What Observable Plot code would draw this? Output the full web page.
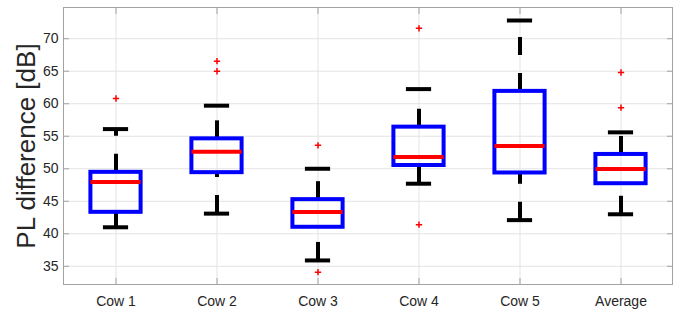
<!DOCTYPE html>
<html><head><meta charset="utf-8">
<script src="https://cdn.jsdelivr.net/npm/d3@7"></script>
<script src="https://cdn.jsdelivr.net/npm/@observablehq/plot@0.6"></script>
<style>body{margin:0;background:#fff} svg{display:block}</style>
</head><body><div id="chart"></div>
<script>
const categories = ["Cow 1", "Cow 2", "Cow 3", "Cow 4", "Cow 5", "Average"];
const lowerWhisker = [41.0, 43.1, 35.9, 47.7, 42.1, 43.0];
const q1Values     = [43.3, 49.4, 41.0, 50.5, 49.35, 47.7];
const medianValues = [47.95, 52.6, 43.35, 51.8, 53.5, 49.95];
const q3Values     = [49.45, 54.6, 45.25, 56.4, 61.9, 52.2];
const upperWhisker = [56.1, 59.7, 50.0, 62.25, 72.8, 55.6];
const outlierCategory = ["Cow 1", "Cow 2", "Cow 2", "Cow 3", "Cow 3", "Cow 4", "Cow 4", "Average", "Average"];
const outlierValue    = [60.8, 66.55, 65.0, 53.6, 34.1, 71.6, 41.4, 64.8, 59.4];
const yTicks = [35, 40, 45, 50, 55, 60, 65, 70];
const yLabel = "PL difference [dB]";

const boxes = categories.map((c, i) => ({cat: c, lo: lowerWhisker[i], q1: q1Values[i], med: medianValues[i], q3: q3Values[i], hi: upperWhisker[i]}));
const outliers = outlierCategory.map((c, i) => ({cat: c, v: outlierValue[i]}));

const frameColor = "#a3a3a3";
const gridColor = "#e3e3e3";
const textColor = "#262626";

const chart = Plot.plot({
  width: 689, height: 311,
  marginLeft: 63, marginRight: 17, marginTop: 7, marginBottom: 27,
  style: {fontFamily: "'Liberation Sans', Arial, Helvetica, sans-serif", fontSize: "14px", background: "#fff", color: textColor},
  x: {type: "band", domain: categories, padding: 0, label: null},
  y: {domain: [32.2, 74.8], label: null},
  marks: [
    Plot.gridY(yTicks, {stroke: gridColor, strokeOpacity: 1}),
    Plot.gridX(categories, {stroke: gridColor, strokeOpacity: 1}),
    Plot.frame({stroke: frameColor}),
    Plot.axisY(yTicks, {anchor: "left", tickSize: 0, tickPadding: 5, fontSize: 14, fill: textColor}),
    Plot.axisY(yTicks, {anchor: "left", tickSize: -6, text: null, stroke: frameColor}),
    Plot.axisY(yTicks, {anchor: "right", tickSize: -6, text: null, stroke: frameColor}),
    Plot.axisX({anchor: "bottom", tickSize: 0, tickPadding: 12, fontSize: 14, fill: textColor}),
    Plot.axisX({anchor: "bottom", tickSize: -6, text: null, stroke: frameColor}),
    Plot.axisX({anchor: "top", tickSize: -6, text: null, stroke: frameColor}),
    Plot.ruleX(boxes, {x: "cat", y1: "q3", y2: "hi", stroke: "black", strokeWidth: 4, strokeDasharray: "18,18"}),
    Plot.ruleX(boxes, {x: "cat", y1: "lo", y2: "q1", stroke: "black", strokeWidth: 4, strokeDasharray: "18,18"}),
    Plot.tickY(boxes, {x: "cat", y: "hi", stroke: "black", strokeWidth: 4, insetLeft: 37.9, insetRight: 37.9}),
    Plot.tickY(boxes, {x: "cat", y: "lo", stroke: "black", strokeWidth: 4, insetLeft: 37.9, insetRight: 37.9}),
    Plot.barY(boxes, {x: "cat", y1: "q1", y2: "q3", fill: "none", stroke: "#0000ff", strokeWidth: 4, insetLeft: 25.4, insetRight: 25.4}),
    Plot.tickY(boxes, {x: "cat", y: "med", stroke: "#ff0000", strokeWidth: 4, insetLeft: 25.4, insetRight: 25.4}),
    Plot.dot(outliers, {x: "cat", y: "v", symbol: "plus", stroke: "#ff0000", r: 2.2, strokeWidth: 1.5}),
    Plot.text([yLabel], {frameAnchor: "left", textAnchor: "middle", text: d => d, rotate: -90, dx: -37, fontSize: 26, fill: textColor})
  ]
});
document.getElementById("chart").appendChild(chart);
</script>
</body></html>
